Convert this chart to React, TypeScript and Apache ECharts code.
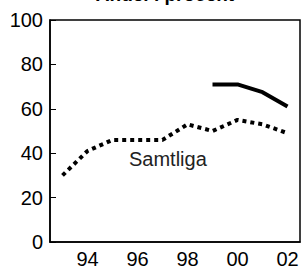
import React, { useEffect, useRef } from "react";
import * as echarts from "echarts";

const years = ["93", "94", "95", "96", "97", "98", "99", "00", "01", "02"];
const samtliga = [30, 41, 46, 46, 46, 53, 50, 55, 53, 49];
const group = [null, null, null, null, null, null, 71, 71, 67.5, 61];
const yTicks = [0, 20, 40, 60, 80, 100];

export default function App() {
  const ref = useRef<HTMLDivElement>(null);
  useEffect(() => {
    document.body.style.margin = "0";
    const chart = echarts.init(ref.current!, null, { renderer: "svg" });
    const font = "'Liberation Sans', Arial, Helvetica, sans-serif";
    chart.setOption({
      animation: false,
      backgroundColor: "#ffffff",
      grid: { left: 50, top: 20, width: 250, height: 222, show: true, borderColor: "#000", borderWidth: 1.5, containLabel: false },
      xAxis: {
        type: "category",
        data: years,
        boundaryGap: true,
        axisLine: { lineStyle: { color: "#000", width: 1.5 } },
        axisTick: { inside: true, interval: 0, length: 6, lineStyle: { color: "#000", width: 1 } },
        axisLabel: {
          interval: (i: number) => i % 2 === 1,
          color: "#000",
          fontSize: 20,
          fontFamily: font,
          margin: 7,
        },
        splitLine: { show: false },
      },
      yAxis: {
        type: "value",
        min: yTicks[0],
        max: yTicks[yTicks.length - 1],
        interval: 20,
        axisLine: { show: true, lineStyle: { color: "#000", width: 1.5 } },
        axisTick: { show: true, inside: true, length: 6, lineStyle: { color: "#000", width: 1 } },
        axisLabel: { color: "#000", fontSize: 20, fontFamily: font, margin: 7 },
        splitLine: { show: false },
      },
      graphic: [
        {
          type: "text",
          x: 129,
          y: 159,
          style: { text: "Samtliga", fontSize: 20, fontFamily: font, fill: "#222", textAlign: "left", textVerticalAlign: "middle" },
        },
        {
          type: "text",
          x: 165,
          y: -15,
          style: { text: "Andel i procent", fontSize: 19, fontWeight: "bold", fontFamily: font, fill: "#000", textAlign: "center" },
        },
      ],
      series: [
        {
          type: "line",
          data: samtliga,
          symbol: "none",
          lineStyle: { color: "#000", width: 4, type: [4, 4], cap: "butt" },
        },
        {
          type: "line",
          data: group,
          symbol: "none",
          connectNulls: false,
          lineStyle: { color: "#000", width: 4 },
        },
      ],
    });
    return () => chart.dispose();
  }, []);
  return <div ref={ref} style={{ position: "absolute", left: 0, top: 0, width: 302, height: 269 }} />;
}
